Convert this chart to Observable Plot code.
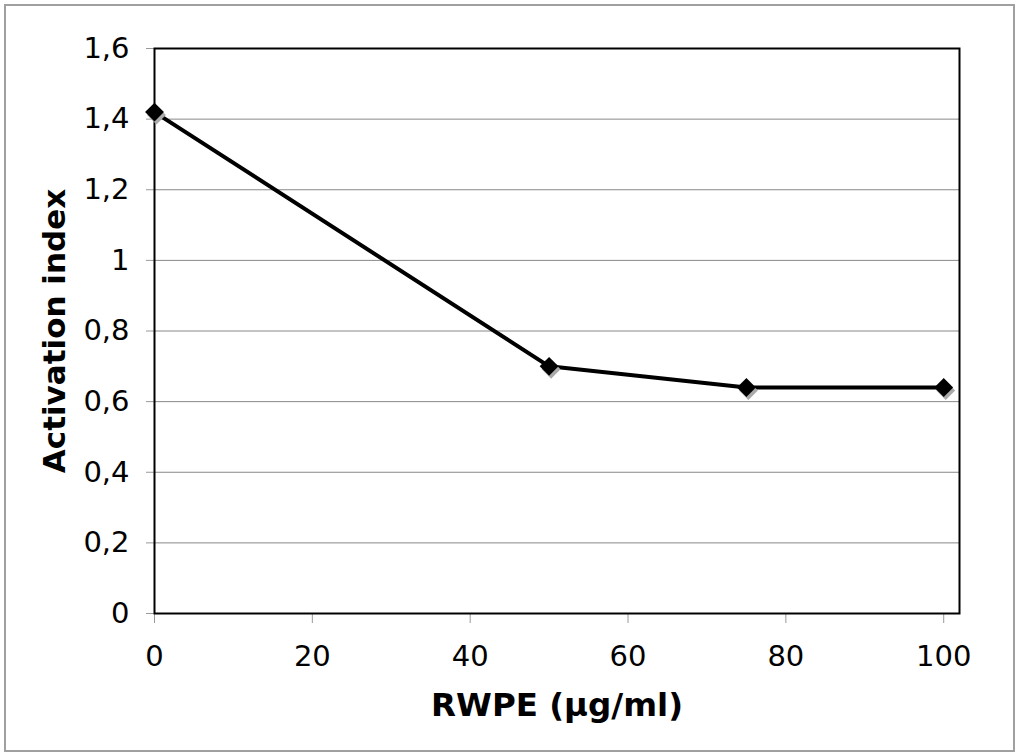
<!DOCTYPE html>
<html>
<head>
<meta charset="utf-8">
<script src="https://cdn.jsdelivr.net/npm/d3@7"></script>
<script src="https://cdn.jsdelivr.net/npm/@observablehq/plot@0.6"></script>
<style>
  html, body { margin: 0; padding: 0; background: #fff; }
  #wrap { position: relative; width: 1018px; height: 753px; }
  #border { position: absolute; left: 4px; top: 4px; width: 1007px; height: 744px; border: 2px solid #a0a0a0; pointer-events: none; }
</style>
</head>
<body>
<div id="wrap"><div id="border"></div></div>
<script>
const doses = [0, 50, 75, 100];
const activation = [1.42, 0.70, 0.64, 0.64];
const yTicks = [0, 0.2, 0.4, 0.6, 0.8, 1.0, 1.2, 1.4, 1.6];
const gridTicks = [0.2, 0.4, 0.6, 0.8, 1.0, 1.2, 1.4];
const xTicks = [0, 20, 40, 60, 80, 100];
const yLabel = "Activation index";
const xLabel = "RWPE (µg/ml)";

const data = doses.map((d, i) => ({dose: d, value: activation[i]}));
const fmt = v => String(+v.toFixed(1)).replace(".", ",");

const chart = Plot.plot({
  width: 1018,
  height: 753,
  marginLeft: 154,
  marginRight: 59,
  marginTop: 48,
  marginBottom: 140,
  style: {fontFamily: "'DejaVu Sans', Verdana, sans-serif", fontSize: "29px", color: "black", background: "transparent"},
  x: {domain: [0, 102]},
  y: {domain: [0, 1.6]},
  marks: [
    Plot.gridY(gridTicks, {stroke: "#888", strokeOpacity: 1, strokeWidth: 1}),
    Plot.axisY(yTicks, {tickFormat: fmt, tickSize: 8, tickPadding: 17, stroke: "#999", fill: "black", label: null, fontSize: 29}),
    Plot.axisX(xTicks, {tickSize: 10, tickPadding: 22, stroke: "#999", fill: "black", label: null, fontSize: 29}),
    Plot.frame({stroke: "black", strokeWidth: 2}),
    Plot.line(data, {x: "dose", y: "value", stroke: "black", strokeWidth: 4}),
    Plot.dot(data, {x: "dose", y: "value", symbol: "diamond2", r: 8.5, fill: "#aaa", stroke: "none", dx: 2, dy: 3}),
    Plot.dot(data, {x: "dose", y: "value", symbol: "diamond2", r: 8.5, fill: "black", stroke: "none"}),
    Plot.text([yLabel], {frameAnchor: "left", dx: -99, rotate: -90, textAnchor: "middle", lineAnchor: "middle", fontWeight: "bold", fontSize: 31, fill: "black"}),
    Plot.text([xLabel], {frameAnchor: "bottom", dy: 92, textAnchor: "middle", lineAnchor: "middle", fontWeight: "bold", fontSize: 32.5, fill: "black"})
  ]
});
document.getElementById("wrap").appendChild(chart);
</script>
</body>
</html>
